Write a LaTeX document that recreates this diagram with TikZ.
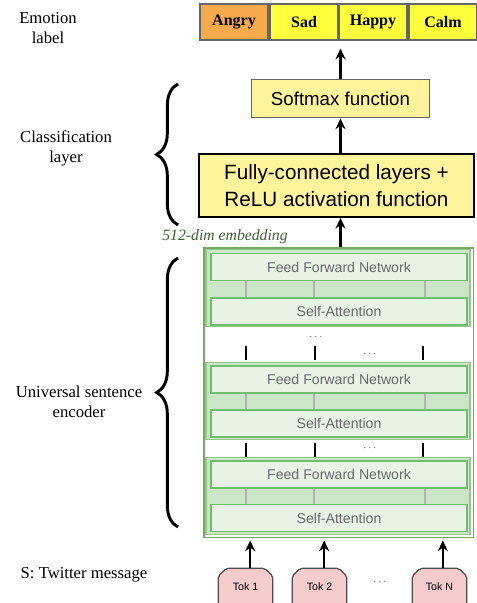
\documentclass[tikz,border=0pt]{standalone}
\usepackage{fontspec}
\setmainfont{Liberation Serif}
\setsansfont{Liberation Sans}
\usetikzlibrary{arrows.meta,decorations.pathreplacing,shapes.misc}
\definecolor{angryc}{RGB}{246,170,76}
\definecolor{emoyel}{RGB}{255,255,60}
\definecolor{paleyel}{RGB}{255,244,156}
\definecolor{encgreen}{RGB}{118,170,100}
\definecolor{bandgreen}{RGB}{202,230,199}
\definecolor{bandedge}{RGB}{150,200,140}
\definecolor{boxgreen}{RGB}{232,243,230}
\definecolor{boxedge}{RGB}{110,190,110}
\definecolor{tokpink}{RGB}{244,204,204}
\definecolor{embgreen}{RGB}{60,95,50}
\definecolor{enctext}{RGB}{105,105,105}
\tikzset{
  emo/.style={draw=black!60, line width=0.9pt, fill=emoyel, minimum width=51pt,
    minimum height=27pt, inner sep=0pt, font=\fontsize{12}{14}\selectfont\bfseries},
  softbox/.style={draw=black!60, line width=0.9pt, fill=paleyel, minimum width=134pt,
    minimum height=29pt, inner sep=0pt, font=\sffamily\fontsize{14}{16}\selectfont},
  fcbox/.style={draw=black, line width=1.6pt, fill=paleyel, minimum width=206pt,
    minimum height=47pt, inner sep=0pt, align=center, font=\sffamily\fontsize{15.5}{20}\selectfont},
  encbox/.style={draw=encgreen, line width=1pt, minimum width=202pt, minimum height=217pt},
  band/.style={draw=bandedge, line width=0.8pt, fill=bandgreen, minimum width=198pt, minimum height=58pt},
  layerbox/.style={draw=boxedge, line width=1pt, fill=boxgreen, minimum width=192pt,
    minimum height=20.25pt, inner sep=0pt, text=enctext, font=\sffamily\fontsize{10.6}{12}\selectfont},
  tok/.style={chamfered rectangle, chamfered rectangle corners={north west,north east},
    chamfered rectangle xsep=5pt, rounded corners=1.5pt, draw=black!70, line width=0.9pt, fill=tokpink,
    minimum width=41pt, minimum height=28pt, inner sep=0pt, font=\sffamily\fontsize{8}{10}\selectfont},
  lbl/.style={align=center, font=\fontsize{12.5}{15}\selectfont},
  arr/.style={-{Stealth[length=8pt,width=7.5pt]}, line width=1.8pt},
  brc/.style={decorate, decoration={brace, amplitude=16pt}, line width=2.2pt},
  gtick/.style={draw=black!30, line width=1.3pt},
  btick/.style={line width=1.2pt},
  dots/.style={text=black!80, font=\sffamily\bfseries\fontsize{7}{8}\selectfont}
}
\begin{document}
\begin{tikzpicture}[x=0.75pt, y=-0.75pt]
  \useasboundingbox (0,0) rectangle (477,603);
  \clip (0,0) rectangle (477,603);

  % left hand labels
  \node[lbl] (lemo) at (48,28) {Emotion\\label};
  \node[lbl] (lcls) at (66,148) {Classification\\layer};
  \node[lbl] (lenc) at (79,402) {Universal sentence\\encoder};
  \node[lbl] (lmsg) at (84,575) {S: Twitter message};
  \draw[brc] (178,225) -- (178,84);
  \draw[brc] (178,527) -- (178,258);

  % emotion labels
  \node[emo, fill=angryc] (angry) at (234,22) {Angry};
  \node[emo] (sad) at (304,22) {Sad};
  \node[emo] (happy) at (373,22) {Happy};
  \node[emo] (calm) at (443,22) {Calm};

  % classification layer
  \node[softbox] (softmax) at (340.5,98.5) {Softmax function};
  \node[fcbox] (fc) at (336.5,185.5) {Fully-connected layers +\\ReLU activation function};
  \node[text=embgreen, font=\itshape\fontsize{11.8}{14}\selectfont] (emb) at (225,237) {512-dim embedding};

  % encoder
  \node[encbox] (enc) at (338.5,392.5) {};
  \foreach \b/\y in {1/288, 2/401, 3/496}
    \node[band] (band\b) at (338,\y) {};
  \foreach \b/\f/\s in {1/267/311.5, 2/379.5/423.5, 3/474.5/518} {
    \node[layerbox] (ffn\b) at (339,\f) {Feed Forward Network};
    \node[layerbox] (sa\b) at (339,\s) {Self-Attention};
    \foreach \dx in {-69.75pt,-18.75pt,64.5pt}
      \draw[gtick] ([xshift=\dx]sa\b.north) -- ([xshift=\dx]ffn\b.south);
  }
  \foreach \y in {346,443}
    \foreach \x in {246,315,423}
      \draw[btick] (\x,\y) -- (\x,\y+14);
  \node[dots] (d1) at (316,337) {$\cdots$};
  \node[dots] (d2) at (370,354) {$\cdots$};
  \node[dots] (d3) at (370,448) {$\cdots$};

  % tokens
  \node[tok] (tok1) at (245.5,587) {Tok 1};
  \node[tok] (tok2) at (319.5,587) {Tok 2};
  \node[tok] (tokN) at (439.5,587) {Tok N};
  \node[dots] (d4) at (380,582) {$\cdots$};

  % arrows
  \draw[arr, shorten >=6pt] (softmax.north) -- (softmax.north |- happy.south);
  \draw[arr] (softmax.south |- fc.north) -- (softmax.south);
  \draw[arr] (softmax.south |- enc.north) -- (softmax.south |- fc.south);
  \foreach \t/\dx in {tok1/3.5pt, tok2/3.5pt, tokN/2.5pt}
    \draw[arr, shorten >=2pt] ([xshift=\dx]\t.north) -- ([xshift=\dx]\t.north |- enc.south);
\end{tikzpicture}
\end{document}
